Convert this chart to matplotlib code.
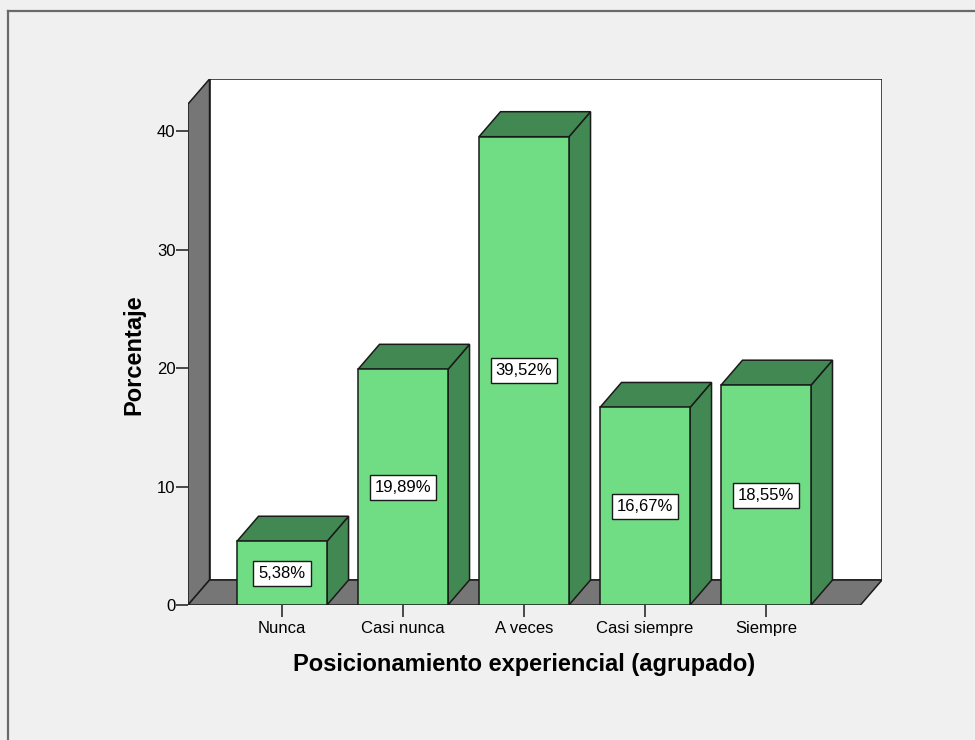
import matplotlib
matplotlib.use("Agg")
from matplotlib import pyplot
from matplotlib.patches import Polygon, Rectangle
from matplotlib.lines import Line2D

categories = ["Nunca", "Casi nunca", "A veces", "Casi siempre", "Siempre"]
percentages = [5.38, 19.89, 39.52, 16.67, 18.55]
bar_labels = ["5,38%", "19,89%", "39,52%", "16,67%", "18,55%"]
y_ticks = [0, 10, 20, 30, 40]

pyplot.rcParams['font.family'] = ['Liberation Sans', 'DejaVu Sans']

FRONT = "#70dc84"
SIDE = "#428852"
GRAY = "#767676"
EDGE = "#1a1a1a"
LW = 1.1

# data extents and 3D depth offset (in data units)
x0, x1 = -0.777, 4.959
y_top = 44.39
dx, dy = 0.178, 2.11
wall_top = y_top - dy
half = 0.372

fig = pyplot.figure(figsize=(9.75, 7.4), dpi=100, facecolor="#f0f0f0")
ax = fig.add_axes([188 / 975, 135 / 740, 694 / 975, 526 / 740])
ax.set_xlim(x0, x1)
ax.set_ylim(0, y_top)
ax.set_facecolor("none")
for s in ax.spines.values():
    s.set_visible(False)

floor_right = x1 - dx

# back wall
ax.add_patch(Rectangle((x0 + dx, dy), floor_right - x0, wall_top, facecolor="white",
                       edgecolor=EDGE, lw=LW, zorder=1))
# left wall
ax.add_patch(Polygon([(x0, 0), (x0, wall_top), (x0 + dx, y_top), (x0 + dx, dy)],
                     closed=True, facecolor=GRAY, edgecolor=EDGE, lw=LW, zorder=2))
# floor
ax.add_patch(Polygon([(x0, 0), (floor_right, 0), (x1, dy), (x0 + dx, dy)],
                     closed=True, facecolor=GRAY, edgecolor=EDGE, lw=LW, zorder=2))

for i, v in enumerate(percentages):
    l, r = i - half, i + half
    ax.add_patch(Polygon([(r, 0), (r + dx, dy), (r + dx, v + dy), (r, v)], closed=True,
                         facecolor=SIDE, edgecolor=EDGE, lw=LW, zorder=3))
    ax.add_patch(Polygon([(l, v), (l + dx, v + dy), (r + dx, v + dy), (r, v)], closed=True,
                         facecolor=SIDE, edgecolor=EDGE, lw=LW, zorder=3))
    ax.add_patch(Rectangle((l, 0), r - l, v, facecolor=FRONT, edgecolor=EDGE, lw=LW, zorder=4))
    ax.text(i, v / 2, bar_labels[i], ha="center", va="center", fontsize=12, zorder=5,
            bbox=dict(boxstyle="square,pad=0.3", facecolor="white", edgecolor=EDGE, lw=1.0))

ax.set_xticks(range(len(categories)))
ax.set_xticklabels(categories, fontsize=12)
ax.set_yticks(y_ticks)
ax.set_yticklabels([str(t) for t in y_ticks], fontsize=12)
ax.tick_params(direction="out", length=8.5, width=1.1, color=EDGE)
ax.tick_params(axis="x", pad=3)
ax.tick_params(axis="y", pad=0.5)

ax.set_xlabel("Posicionamiento experiencial (agrupado)", fontsize=17, fontweight="bold", labelpad=12)
ax.set_ylabel("Porcentaje", fontsize=17, fontweight="bold", labelpad=8)
ax.xaxis.label.set_x(0.484)
ax.yaxis.label.set_y(0.475)

# outer frame of the picture
fig.add_artist(Line2D([8 / 975, 8 / 975], [0, 1 - 11 / 740], color="#6a6a6a", lw=1.6))
fig.add_artist(Line2D([8 / 975, 1], [1 - 11 / 740, 1 - 11 / 740], color="#6a6a6a", lw=1.6))

fig.savefig("out.png", dpi=100, facecolor=fig.get_facecolor())
